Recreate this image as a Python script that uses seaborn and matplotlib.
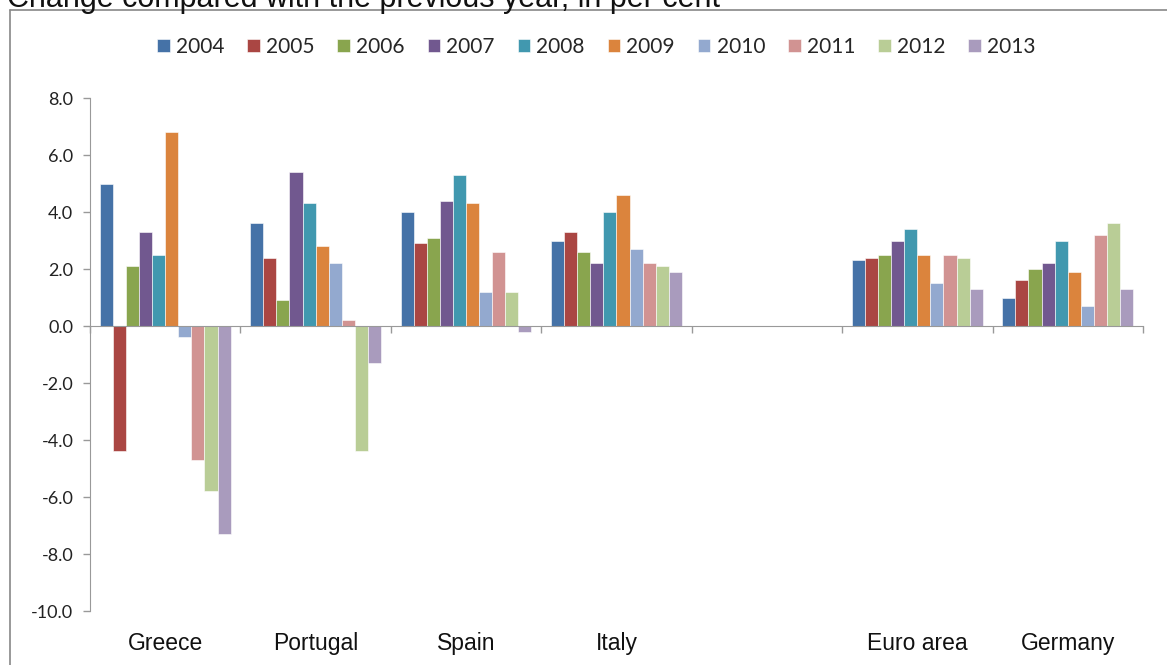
import numpy as np
import pandas as pd
import matplotlib
matplotlib.use("Agg")
import matplotlib.pyplot as plt
from matplotlib.lines import Line2D
import seaborn as sns

# categories (blank slot between Italy and Euro area, as in the source chart)
countries = ["Greece", "Portugal", "Spain", "Italy", " ", "Euro area", "Germany"]
years = ["2004", "2005", "2006", "2007", "2008", "2009", "2010", "2011", "2012", "2013"]

greece = [5.0, -4.4, 2.1, 3.3, 2.5, 6.8, -0.4, -4.7, -5.8, -7.3]
portugal = [3.6, 2.4, 0.9, 5.4, 4.3, 2.8, 2.2, 0.2, -4.4, -1.3]
spain = [4.0, 2.9, 3.1, 4.4, 5.3, 4.3, 1.2, 2.6, 1.2, -0.2]
italy = [3.0, 3.3, 2.6, 2.2, 4.0, 4.6, 2.7, 2.2, 2.1, 1.9]
euro_area = [2.3, 2.4, 2.5, 3.0, 3.4, 2.5, 1.5, 2.5, 2.4, 1.3]
germany = [1.0, 1.6, 2.0, 2.2, 3.0, 1.9, 0.7, 3.2, 3.6, 1.3]

colors = ["#4572A7", "#AA4643", "#89A54E", "#71588F", "#4198AF",
          "#DB843D", "#93A9CF", "#D19392", "#B9CD96", "#A99BBD"]

y_ticks = [-10, -8, -6, -4, -2, 0, 2, 4, 6, 8]

series = {"Greece": greece, "Portugal": portugal, "Spain": spain, "Italy": italy,
          "Euro area": euro_area, "Germany": germany}
rows = []
for c, vals in series.items():
    for yr, v in zip(years, vals):
        rows.append({"country": c, "year": yr, "value": v})
df = pd.DataFrame(rows)

sns.set_style("white")
plt.rcParams["font.family"] = ["Liberation Sans", "DejaVu Sans"]

fig = plt.figure(figsize=(11.67, 6.65), dpi=100)
ax = fig.add_axes([0.0771, 0.0812, 0.9023, 0.7714])

sns.barplot(data=df, x="country", y="value", hue="year", order=countries,
            hue_order=years, palette=colors, width=0.87, ax=ax,
            edgecolor="white", linewidth=0.4, saturation=1, errorbar=None)

ax.set_ylim(-10, 8)
ax.set_xlim(-0.5, len(countries) - 0.5)
ax.set_yticks(y_ticks)
ax.set_yticklabels([f"{t:.1f}" for t in y_ticks], fontsize=13, family=["Lato", "DejaVu Sans"],
                   color="#222222")
ax.tick_params(axis="y", direction="out", length=5, width=1, color="#999999", pad=7, left=True)

# zero line with category boundary ticks
ax.spines["bottom"].set_position(("data", 0))
ax.spines["bottom"].set_color("#999999")
ax.spines["left"].set_color("#999999")
ax.spines["top"].set_visible(False)
ax.spines["right"].set_visible(False)
ax.set_xticks(np.arange(-0.5, len(countries), 1.0))
ax.set_xticklabels([])
ax.tick_params(axis="x", direction="out", length=5, width=1, color="#999999", bottom=True)

sec = ax.secondary_xaxis("bottom")
sec.set_xticks(range(len(countries)))
sec.set_xticklabels(countries, fontsize=16.5, color="#111111")
sec.tick_params(length=0, pad=15)
sec.spines["bottom"].set_visible(False)

ax.set_xlabel("")
ax.set_ylabel("")

handles, labels = ax.get_legend_handles_labels()
ax.legend(handles, labels, loc="center", bbox_to_anchor=(0.511, 0.929),
          bbox_transform=fig.transFigure, ncol=10, frameon=False,
          handlelength=0.6, handleheight=0.6, handletextpad=0.3, columnspacing=1.1,
          prop={"family": ["Lato", "DejaVu Sans"], "size": 15})

# outer chart frame (cropped in the source image)
fig.add_artist(Line2D([0.0086, 0.0086], [0.0, 0.985], color="#888888", lw=1.2))
fig.add_artist(Line2D([0.0086, 1.0], [0.985, 0.985], color="#888888", lw=1.2))

fig.text(0.006, 0.99, "Change compared with the previous year, in per cent",
         fontsize=22, va="baseline", ha="left", color="#111111")

fig.savefig("out.png", dpi=100)
